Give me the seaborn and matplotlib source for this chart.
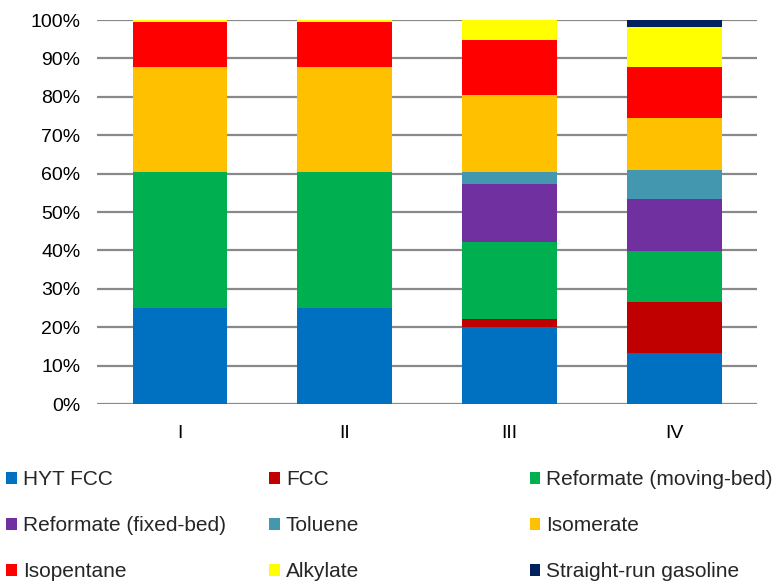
import numpy as np
import pandas as pd
import matplotlib
matplotlib.use("Agg")
import matplotlib.pyplot as plt
import seaborn as sns
from matplotlib.patches import Patch

# categories and stacked shares (%)
cases = ["I", "II", "III", "IV"]
hyt_fcc = [25.0, 25.0, 20.0, 13.3]
fcc = [0.0, 0.0, 2.1, 13.3]
reformate_moving = [35.5, 35.5, 20.0, 13.3]
reformate_fixed = [0.0, 0.0, 15.1, 13.4]
toluene = [0.0, 0.0, 3.3, 7.7]
isomerate = [27.3, 27.3, 20.0, 13.4]
isopentane = [11.6, 11.6, 14.4, 13.3]
alkylate = [0.6, 0.6, 5.1, 10.5]
straight_run = [0.0, 0.0, 0.0, 1.8]

series = [
    ("HYT FCC", hyt_fcc, "#0070C0"),
    ("FCC", fcc, "#C00000"),
    ("Reformate (moving-bed)", reformate_moving, "#00B050"),
    ("Reformate (fixed-bed)", reformate_fixed, "#7030A0"),
    ("Toluene", toluene, "#4398B0"),
    ("Isomerate", isomerate, "#FFC000"),
    ("Isopentane", isopentane, "#FF0000"),
    ("Alkylate", alkylate, "#FFFF00"),
    ("Straight-run gasoline", straight_run, "#002060"),
]

sns.set_style("white")
plt.rcParams["font.family"] = ["Liberation Sans", "DejaVu Sans"]

fig = plt.figure(figsize=(7.8, 5.87), dpi=100)
ax = fig.add_axes([0.1244, 0.3117, 0.8461, 0.6542])

bottom = np.zeros(len(cases))
for name, vals, col in series:
    df = pd.DataFrame({"case": cases, "share": vals})
    sns.barplot(data=df, x="case", y="share", bottom=bottom, color=col,
                saturation=1, width=0.57, linewidth=0, ax=ax)
    bottom = bottom + np.array(vals)

ax.set_ylim(0, 100)
ax.set_xlim(-0.5, 3.5)
ax.set_yticks(range(0, 101, 10))
ax.set_yticklabels([f"{v}%" for v in range(0, 101, 10)])
ax.yaxis.grid(True, color="#898989", linewidth=1.6)
ax.set_axisbelow(True)
for s in ax.spines.values():
    s.set_visible(False)
ax.tick_params(axis="both", length=0, labelsize=14, colors="black")
ax.tick_params(axis="y", pad=12)
ax.tick_params(axis="x", pad=15)
ax.set_xlabel("")
ax.set_ylabel("")

# legend laid out in three equal-width columns, row by row
col_x = [0.0, 0.337, 0.671]
for c in range(3):
    handles = [Patch(facecolor=series[r * 3 + c][2], edgecolor="none")
               for r in range(3)]
    labels = [series[r * 3 + c][0] for r in range(3)]
    fig.legend(handles, labels, loc="upper left",
               bbox_to_anchor=(col_x[c], 0.21), frameon=False,
               fontsize=15, handlelength=0.5, handleheight=0.5,
               handletextpad=0.3, labelspacing=1.3, borderaxespad=0,
               borderpad=0.3)

fig.savefig("out.png", dpi=100)
